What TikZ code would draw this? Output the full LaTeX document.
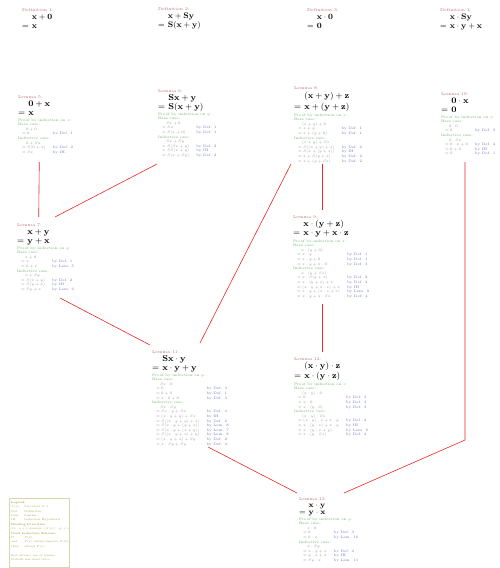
\RequirePackage{fix-cm}
\documentclass[tikz,border=0pt]{standalone}
\usepackage{amsmath}
\usepackage{array}
\definecolor{titlec}{RGB}{190,110,120}
\definecolor{proofc}{RGB}{110,175,110}
\definecolor{eqc}{RGB}{140,140,140}
\definecolor{byc}{RGB}{115,115,190}
\definecolor{legc}{RGB}{165,165,80}
\definecolor{legbox}{RGB}{215,215,175}
\definecolor{arrc}{RGB}{235,40,40}
\newcommand{\ttl}[1]{\multicolumn{2}{@{}l@{}}{\fontsize{4.2}{5}\selectfont\color{titlec}#1\rule[-1.6pt]{0pt}{1pt}}}
\newcommand{\fml}[4]{\multicolumn{2}{@{}l@{}}{\fontsize{#1}{#2}\selectfont\color{black}$\begin{array}{@{}l@{\hspace{0.4em}}l@{}}&\mathbf{#3}\\=&\mathbf{#4}\end{array}$}}
\newcommand{\hd}[1]{\multicolumn{2}{@{}l@{}}{\color{proofc}#1}}
\newcommand{\st}[1]{\multicolumn{2}{@{\hspace{8pt}}l@{}}{$#1$}}
\newcommand{\eqr}[2]{$=#1$ & {\color{byc}by #2}}
\newenvironment{pbox}{\begin{tabular}{@{\hspace{4pt}}l@{\hspace{7pt}}l@{}}}{\end{tabular}}
\tikzset{
  lem/.style={anchor=north west, inner sep=0pt, outer sep=0pt, text=eqc,
    font=\fontsize{3.6}{4.6}\selectfont},
  dep/.style={draw=arrc, line width=0.6pt},
  legtext/.style={anchor=north west, inner sep=0pt, text=legc,
    font=\fontsize{2.8}{4.4}\selectfont}
}
\begin{document}
\begin{tikzpicture}[x=1pt,y=-1pt]
\useasboundingbox (0,0) rectangle (500,568);
\fill[white] (0,0) rectangle (500,568);
% Definitions
\node[lem] (d1) at (22,8.5) {\begin{pbox}\ttl{Definition 1:}\\ \fml{8}{9}{x+0}{x}\end{pbox}};
\node[lem] (d2) at (158,7.5) {\begin{pbox}\ttl{Definition 2:}\\ \fml{8}{9}{x+Sy}{S(x+y)}\end{pbox}};
\node[lem] (d3) at (307,8.5) {\begin{pbox}\ttl{Definition 3:}\\ \fml{8}{9}{x\cdot 0}{0}\end{pbox}};
\node[lem] (d4) at (440,8.5) {\begin{pbox}\ttl{Definition 4:}\\ \fml{8}{9}{x\cdot Sy}{x\cdot y+x}\end{pbox}};
% Lemma 5
\node[lem] (l5) at (18,95) {\begin{pbox}
\ttl{Lemma 5:}\\ \fml{8.5}{9}{0+x}{x}\\
\hd{Proof by induction on $x$:}\\ \hd{Base case:}\\
\st{0+0}\\ \eqr{0}{Def. 1}\\
\hd{Inductive case:}\\
\st{0+Sx}\\ \eqr{S(0+x)}{Def. 2}\\ \eqr{Sx}{IH.}
\end{pbox}};
% Lemma 6
\node[lem] (l6) at (158,89) {\begin{pbox}
\ttl{Lemma 6:}\\ \fml{8.5}{9}{Sx+y}{S(x+y)}\\
\hd{Proof by induction on $y$:}\\ \hd{Base case:}\\
\st{Sx+0}\\ \eqr{Sx}{Def. 1}\\ \eqr{S(x+0)}{Def. 1}\\
\hd{Inductive case:}\\
\st{Sx+Sy}\\ \eqr{S(Sx+y)}{Def. 2}\\ \eqr{SS(x+y)}{IH}\\ \eqr{S(x+Sy)}{Def. 2}
\end{pbox}};
% Lemma 8
\node[lem] (l8) at (294,86) {\begin{pbox}
\ttl{Lemma 8:}\\ \fml{8.5}{11}{(x+y)+z}{x+(y+z)}\\
\hd{Proof by induction on $z$:}\\ \hd{Base case:}\\
\st{(x+y)+0}\\ \eqr{x+y}{Def. 1}\\ \eqr{x+(y+0)}{Def. 1}\\
\hd{Inductive case:}\\
\st{(x+y)+Sz}\\ \eqr{S((x+y)+z)}{Def. 2}\\ \eqr{S(x+(y+z))}{IH}\\
\eqr{x+S(y+z)}{Def. 2}\\ \eqr{x+(y+Sz)}{Def. 2}
\end{pbox}};
% Lemma 10
\node[lem] (l10) at (441,92) {\begin{pbox}
\ttl{Lemma 10:}\\ \fml{8.5}{9}{0\cdot x}{0}\\
\hd{Proof by induction on $x$:}\\ \hd{Base case:}\\
\st{0\cdot 0}\\ \eqr{0}{Def. 3}\\
\hd{Inductive case:}\\
\st{0\cdot Sx}\\ \eqr{0\cdot x+0}{Def. 4}\\ \eqr{0+0}{IH}\\ \eqr{0}{Def. 1}
\end{pbox}};
% Lemma 7
\node[lem] (l7) at (17,223) {\begin{pbox}
\ttl{Lemma 7:}\\ \fml{8.5}{9}{x+y}{y+x}\\
\hd{Proof by induction on $y$:}\\ \hd{Base case:}\\
\st{x+0}\\ \eqr{x}{Def. 1}\\ \eqr{0+x}{Lem. 5}\\
\hd{Inductive case:}\\
\st{x+Sy}\\ \eqr{S(x+y)}{Def. 2}\\ \eqr{S(y+x)}{IH}\\ \eqr{Sy+x}{Lem. 6}
\end{pbox}};
% Lemma 9
\node[lem] (l9) at (293,215) {\begin{pbox}
\ttl{Lemma 9:}\\ \fml{8.5}{9.5}{x\cdot(y+z)}{x\cdot y+x\cdot z}\\
\hd{Proof by induction on $z$:}\\ \hd{Base case:}\\
\st{x\cdot(y+0)}\\ \eqr{x\cdot y}{Def. 1}\\ \eqr{x\cdot y+0}{Def. 1}\\ \eqr{x\cdot y+x\cdot 0}{Def. 3}\\
\hd{Inductive case:}\\
\st{x\cdot(y+Sz)}\\ \eqr{x\cdot S(y+z)}{Def. 2}\\ \eqr{x\cdot(y+z)+x}{Def. 4}\\
\eqr{(x\cdot y+x\cdot z)+x}{IH}\\ \eqr{x\cdot y+(x\cdot z+x)}{Lem. 8}\\ \eqr{x\cdot y+x\cdot Sz}{Def. 4}
\end{pbox}};
% Lemma 11
\node[lem] (l11) at (152,350) {\begin{pbox}
\ttl{Lemma 11:}\\ \fml{8.5}{9}{Sx\cdot y}{x\cdot y+y}\\
\hd{Proof by induction on $y$:}\\ \hd{Base case:}\\
\st{Sx\cdot 0}\\ \eqr{0}{Def. 3}\\ \eqr{0+0}{Def. 1}\\ \eqr{x\cdot 0+0}{Def. 3}\\
\hd{Inductive case:}\\
\st{Sx\cdot Sy}\\ \eqr{Sx\cdot y+Sx}{Def. 4}\\ \eqr{(x\cdot y+y)+Sx}{IH}\\
\eqr{S((x\cdot y+y)+x)}{Def. 2}\\ \eqr{S(x\cdot y+(y+x))}{Lem. 8}\\
\eqr{S(x\cdot y+(x+y))}{Lem. 7}\\ \eqr{S((x\cdot y+x)+y)}{Lem. 8}\\
\eqr{(x\cdot y+x)+Sy}{Def. 2}\\ \eqr{x\cdot Sy+Sy}{Def. 4}
\end{pbox}};
% Lemma 12
\node[lem] (l12) at (294,357) {\begin{pbox}
\ttl{Lemma 12:}\\ \fml{8.5}{10}{(x\cdot y)\cdot z}{x\cdot(y\cdot z)}\\
\hd{Proof by induction on $z$:}\\ \hd{Base case:}\\
\st{(x\cdot y)\cdot 0}\\ \eqr{0}{Def. 3}\\ \eqr{x\cdot 0}{Def. 3}\\ \eqr{x\cdot(y\cdot 0)}{Def. 3}\\
\hd{Inductive case:}\\
\st{(x\cdot y)\cdot Sz}\\ \eqr{(x\cdot y)\cdot z+x\cdot y}{Def. 4}\\ \eqr{x\cdot(y\cdot z)+x\cdot y}{IH}\\
\eqr{x\cdot(y\cdot z+y)}{Lem. 9}\\ \eqr{x\cdot(y\cdot Sz)}{Def. 4}
\end{pbox}};
% Lemma 13
\node[lem] (l13) at (299,497) {\begin{pbox}
\ttl{Lemma 13:}\\ \fml{7.5}{7.5}{x\cdot y}{y\cdot x}\\
\hd{Proof by induction on $y$:}\\ \hd{Base case:}\\
\st{x\cdot 0}\\ \eqr{0}{Def. 3}\\ \eqr{0\cdot x}{Lem. 10}\\
\hd{Inductive case:}\\
\st{x\cdot Sy}\\ \eqr{x\cdot y+x}{Def. 4}\\ \eqr{y\cdot x+x}{IH}\\ \eqr{Sy\cdot x}{Lem. 11}
\end{pbox}};
% Legend
\node[legtext] (leg) at (11,500) {\begin{tabular}{@{}l@{\hspace{5pt}}l@{}}
\multicolumn{2}{@{}l@{}}{\textbf{Legend:}}\\
$S(x)$ & Successor of $x$\\
Def. & Definition\\
Lem. & Lemma\\
IH & Induction Hypothesis\\
\multicolumn{2}{@{}l@{}}{\textbf{Binding Priorities:}}\\
\multicolumn{2}{@{}l@{}}{$Sx\cdot y+z$ denotes $((S(x))\cdot y)+z$}\\
\multicolumn{2}{@{}l@{}}{\textbf{Used Induction Scheme:}}\\
If & $P(0)$\\
and & $P(x)$ always implies $P(Sx)$,\\
then & always $P(x)$\\
\multicolumn{2}{@{}l@{}}{\strut}\\
\multicolumn{2}{@{}l@{}}{Red arrows: use of lemma}\\
\multicolumn{2}{@{}l@{}}{Default size used twice}
\end{tabular}};
\draw[legbox, line width=0.4pt] (9,498) rectangle (69,567.5);
% Dependencies
\begin{scope}[color=arrc]
\draw[dep] ([shift={(-1,75)}]l6.north west) -- ([shift={(38,-6)}]l7.north west);
\draw[dep] ([shift={(-3,78)}]l8.north west) -- ([shift={(48,-7)}]l11.north west);
\draw[dep] ([shift={(28,78)}]l8.north west) -- ([shift={(29,-5)}]l9.north west);
\draw[dep] ([shift={(43,75)}]l7.north west) -- ([shift={(-2,-5)}]l11.north west);
\draw[dep] ([shift={(29,89)}]l9.north west) -- ([shift={(28,-5)}]l12.north west);
\draw[dep] ([shift={(56,97)}]l11.north west) -- ([shift={(-2,-4)}]l13.north west);
\draw[dep] ([shift={(24,70)}]l10.north west) -- ([shift={(24,348)}]l10.north west) -- ([shift={(45,-4)}]l13.north west);
\draw[dep] ([shift={(21.3,67)}]l5.north west) -- ([shift={(21.7,-6)}]l7.north west);
\end{scope}
\end{tikzpicture}
\end{document}
